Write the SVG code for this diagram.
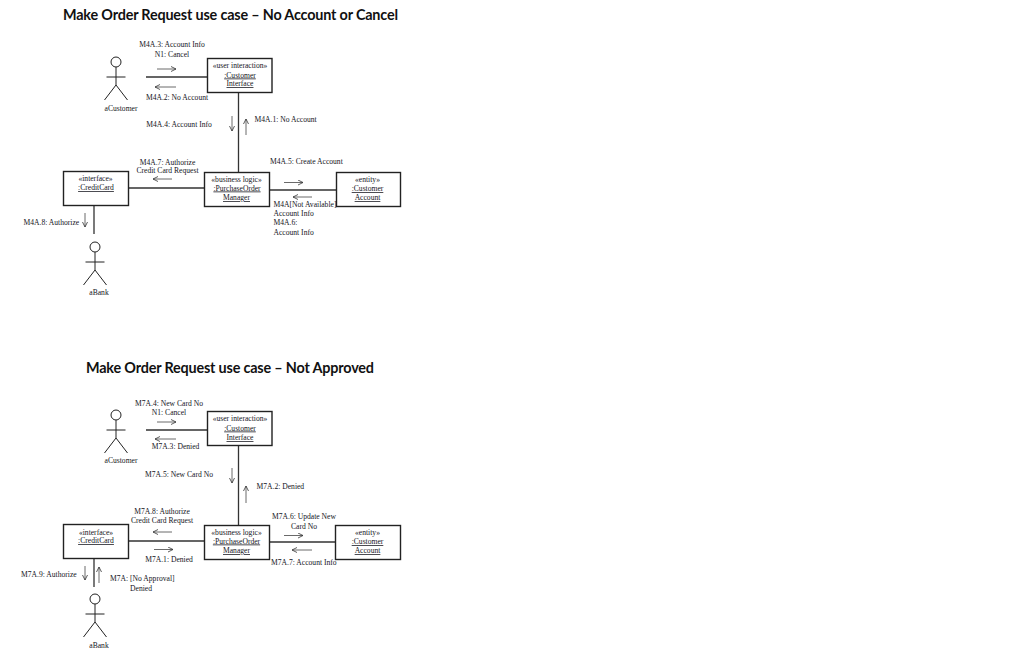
<svg xmlns="http://www.w3.org/2000/svg" width="1024" height="672" viewBox="0 0 1024 672">
<style>
text{font-family:"Liberation Serif","Times New Roman",serif;font-size:7.6px;fill:#14141c}
.m{text-anchor:middle}
.t{font-family:Lato,"Noto Sans",sans-serif;font-size:14.4px;font-weight:700;fill:#111}
.u{text-decoration:underline}
.box{fill:#fff;stroke:#222;stroke-width:1.4}
.ln{fill:none;stroke:#333;stroke-width:1.3}
.ar{fill:none;stroke:#444;stroke-width:.8;marker-end:url(#h)}
.ac{fill:none;stroke:#222;stroke-width:1}
</style>
<defs><marker id="h" markerWidth="8" markerHeight="8" refX="6" refY="3" orient="auto" markerUnits="userSpaceOnUse"><path d="M1 .5L6 3L1 5.5" fill="none" stroke="#333" stroke-width=".8"/></marker>
<g id="actor"><circle cx="0" cy="0" r="5" fill="#fff" stroke="#222"/><path d="M0 5V23M-9.500 15H9.500M-11.500 38L0 23L11.500 38"/></g></defs>
<rect width="1024" height="672" fill="#fff"/>
<text class="t" x="63" y="20" textLength="335">Make Order Request use case – No Account or Cancel</text>
<text class="t" x="86" y="373" textLength="288">Make Order Request use case – Not Approved</text>
<g id="connectors1">
<path class="ln" d="M146 77H207M238.500 92V172M128 188H204M269 190H336M94 205V234"/>
<path class="ar" d="M157 69H176"/><path class="ar" d="M176 87H155"/><path class="ar" d="M232 116V131"/><path class="ar" d="M246 135V119"/><path class="ar" d="M172 179H153"/><path class="ar" d="M284 182.500H303"/><path class="ar" d="M312 197H293"/><path class="ar" d="M85 213V227"/>
</g>
<g id="connectors2">
<path class="ln" d="M146 430H207M238.500 445V525M128 541H204M269 542H335M94 558V587"/>
<path class="ar" d="M157 422H176"/><path class="ar" d="M176 439H155"/><path class="ar" d="M232 468V483"/><path class="ar" d="M246 503V486"/><path class="ar" d="M172 532H153"/><path class="ar" d="M154 549.500H173"/><path class="ar" d="M284 535.500H303"/><path class="ar" d="M312 550H292"/><path class="ar" d="M85 566V580"/><path class="ar" d="M99 583V567"/>
</g>
<g id="actor-customer-1"><use href="#actor" x="116" y="62" class="ac"/><text class="m" x="121" y="110.500">aCustomer</text></g>
<g id="ui-1"><rect class="box" x="207.500" y="58.500" width="64.500" height="34"/><text class="m" x="240" y="68">«user interaction»</text><text class="m u" x="240" y="77.500">:Customer</text><text class="m u" x="240" y="86">Interface</text></g>
<g id="credit-1"><rect class="box" x="63.500" y="171.500" width="65" height="34"/><text class="m" x="95.500" y="181">«interface»</text><text class="m u" x="96" y="190">:CreditCard</text></g>
<g id="logic-1"><rect class="box" x="204.500" y="172.500" width="65" height="34"/><text class="m" x="236.500" y="181.500">«business logic»</text><text class="m u" x="237" y="190.500">:PurchaseOrder</text><text class="m u" x="236.500" y="200">Manager</text></g>
<g id="entity-1"><rect class="box" x="336.500" y="172.500" width="64" height="34"/><text class="m" x="367.500" y="181.500">«entity»</text><text class="m u" x="367.500" y="191">:Customer</text><text class="m u" x="367.500" y="200">Account</text></g>
<g id="actor-bank-1"><use href="#actor" x="95" y="247" class="ac"/><text class="m" x="99" y="295">aBank</text></g>
<g id="labels1">
<text class="m" x="172" y="47">M4A.3: Account Info</text><text class="m" x="172" y="56.500">N1: Cancel</text>
<text class="m" x="177" y="100">M4A.2: No Account</text><text class="m" x="179" y="126.500">M4A.4: Account Info</text><text x="254.500" y="122">M4A.1: No Account</text>
<text class="m" x="167.500" y="164.500">M4A.7: Authorize</text><text class="m" x="167.500" y="173">Credit Card Request</text><text x="270" y="163.500">M4A.5: Create Account</text>
<text x="273.500" y="206.500">M4A[Not Available]</text><text x="273.500" y="215.500">Account Info</text><text x="273.500" y="225">M4A.6:</text><text x="273.500" y="234.500">Account Info</text><text x="23.500" y="224.500">M4A.8: Authorize</text>
</g>
<g id="actor-customer-2"><use href="#actor" x="116" y="415" class="ac"/><text class="m" x="121" y="463">aCustomer</text></g>
<g id="ui-2"><rect class="box" x="207.500" y="411.500" width="64.500" height="34"/><text class="m" x="240" y="421">«user interaction»</text><text class="m u" x="240" y="430.500">:Customer</text><text class="m u" x="240" y="440">Interface</text></g>
<g id="credit-2"><rect class="box" x="63.500" y="524.500" width="65" height="34"/><text class="m" x="96" y="534.500">«interface»</text><text class="m u" x="96" y="543">:CreditCard</text></g>
<g id="logic-2"><rect class="box" x="204.500" y="525.500" width="65" height="34"/><text class="m" x="236.500" y="534.500">«business logic»</text><text class="m u" x="236.500" y="543.500">:PurchaseOrder</text><text class="m u" x="236.500" y="553">Manager</text></g>
<g id="entity-2"><rect class="box" x="335.500" y="525.500" width="65" height="34"/><text class="m" x="367.500" y="534.500">«entity»</text><text class="m u" x="367.500" y="544">:Customer</text><text class="m u" x="367.500" y="553">Account</text></g>
<g id="actor-bank-2"><use href="#actor" x="95" y="599" class="ac"/><text class="m" x="99" y="648">aBank</text></g>
<g id="labels2">
<text class="m" x="169" y="406">M7A.4: New Card No</text><text class="m" x="169" y="415">N1: Cancel</text>
<text class="m" x="175.500" y="449">M7A.3: Denied</text><text class="m" x="179" y="476.500">M7A.5: New Card No</text><text x="256.500" y="489">M7A.2: Denied</text>
<text class="m" x="162" y="513.500">M7A.8: Authorize</text><text class="m" x="162" y="523">Credit Card Request</text>
<text class="m" x="304" y="519">M7A.6: Update New</text><text class="m" x="304" y="529">Card No</text>
<text class="m" x="169" y="562">M7A.1: Denied</text><text x="271" y="564.500">M7A.7: Account Info</text>
<text x="21" y="577">M7A.9: Authorize</text><text x="110" y="581">M7A: [No Approval]</text><text class="m" x="141" y="591">Denied</text>
</g>
</svg>
